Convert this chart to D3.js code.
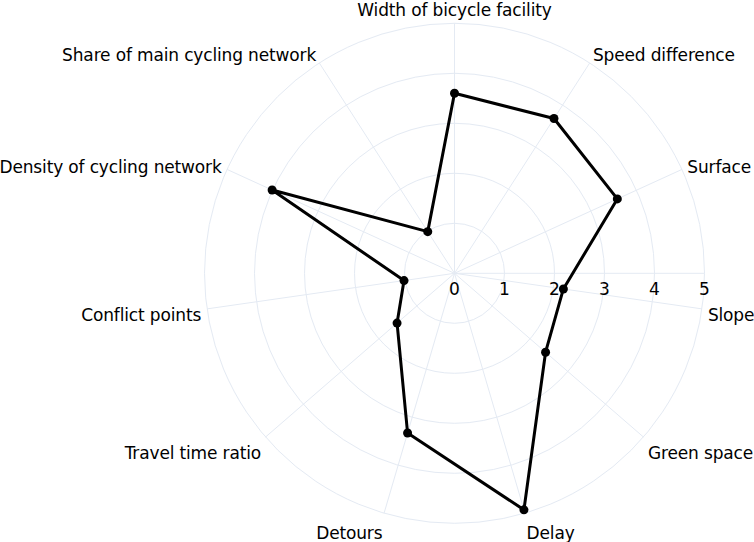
<!DOCTYPE html>
<html>
<head>
<meta charset="utf-8">
<script src="https://cdn.jsdelivr.net/npm/d3@7"></script>
<style>
  html, body { margin: 0; padding: 0; background: #fff; }
  svg { display: block; }
  text { font-family: "DejaVu Sans", Verdana, sans-serif; fill: #000; }
</style>
</head>
<body>
<svg id="chart" width="754" height="542"></svg>
<script>
const categories = [
  "Width of bicycle facility", "Speed difference", "Surface", "Slope",
  "Green space", "Delay", "Detours", "Travel time ratio",
  "Conflict points", "Density of cycling network", "Share of main cycling network"
];
const values = [3.6, 3.68, 3.58, 2.2, 2.41, 4.93, 3.33, 1.52, 1.02, 4.01, 0.99];
const radialTicks = [0, 1, 2, 3, 4, 5];

const W = 754, H = 542;
const cx = 454.5, cy = 273.3, R = 250;
const fs = 17, pad = 6;
const gridColor = "#e4eaf3";

const svg = d3.select("#chart");
const g = svg.append("g").attr("transform", `translate(${cx},${cy})`);

const r = d3.scaleLinear().domain([0, 5]).range([0, R]);
const ang = d3.scaleLinear().domain([0, categories.length]).range([0, 2 * Math.PI]); // clockwise from top

// grid circles
g.selectAll("circle.grid").data(radialTicks.filter(t => t > 0)).join("circle")
  .attr("class", "grid").attr("r", d => r(d))
  .attr("fill", "none").attr("stroke", gridColor).attr("stroke-width", 1);

// angular grid lines
g.selectAll("line.spoke").data(categories).join("line")
  .attr("class", "spoke")
  .attr("x1", 0).attr("y1", 0)
  .attr("x2", (d, i) => R * Math.sin(ang(i)))
  .attr("y2", (d, i) => -R * Math.cos(ang(i)))
  .attr("stroke", gridColor).attr("stroke-width", 1);

// radial axis line (angle 0 -> right)
g.append("line").attr("x1", 0).attr("y1", 0).attr("x2", r(5)).attr("y2", 0)
  .attr("stroke", gridColor).attr("stroke-width", 1);

// radial tick labels
g.selectAll("text.rtick").data(radialTicks).join("text")
  .attr("class", "rtick")
  .attr("x", d => r(d)).attr("y", 22)
  .attr("text-anchor", "middle")
  .attr("font-size", fs)
  .text(d => d);

// data line
const line = d3.lineRadial()
  .angle((d, i) => ang(i))
  .radius(d => r(d))
  .curve(d3.curveLinearClosed);

g.append("path").datum(values)
  .attr("d", line)
  .attr("fill", "none").attr("stroke", "#000").attr("stroke-width", 3)
  .attr("stroke-linejoin", "round");

g.selectAll("circle.pt").data(values).join("circle")
  .attr("class", "pt")
  .attr("cx", (d, i) => r(d) * Math.sin(ang(i)))
  .attr("cy", (d, i) => -r(d) * Math.cos(ang(i)))
  .attr("r", 4.5).attr("fill", "#000");

// angular labels (plotly-like placement)
g.selectAll("text.alab").data(categories).join("text")
  .attr("class", "alab")
  .attr("font-size", fs)
  .attr("letter-spacing", -0.15)
  .each(function(d, i) {
    const th = Math.PI / 2 - ang(i); // math angle
    const c = Math.cos(th), s = Math.sin(th);
    const ff = s > 0 ? 0.2 : 1;
    const x = (R + pad) * c;
    const y = -R * s - s * (pad + fs * ff) + Math.abs(c) * fs * 0.35 + 2.5;
    const anchor = Math.abs(c) < 0.1 ? "middle" : (c > 0 ? "start" : "end");
    d3.select(this).attr("x", x).attr("y", y).attr("text-anchor", anchor).text(d);
  });
</script>
</body>
</html>
